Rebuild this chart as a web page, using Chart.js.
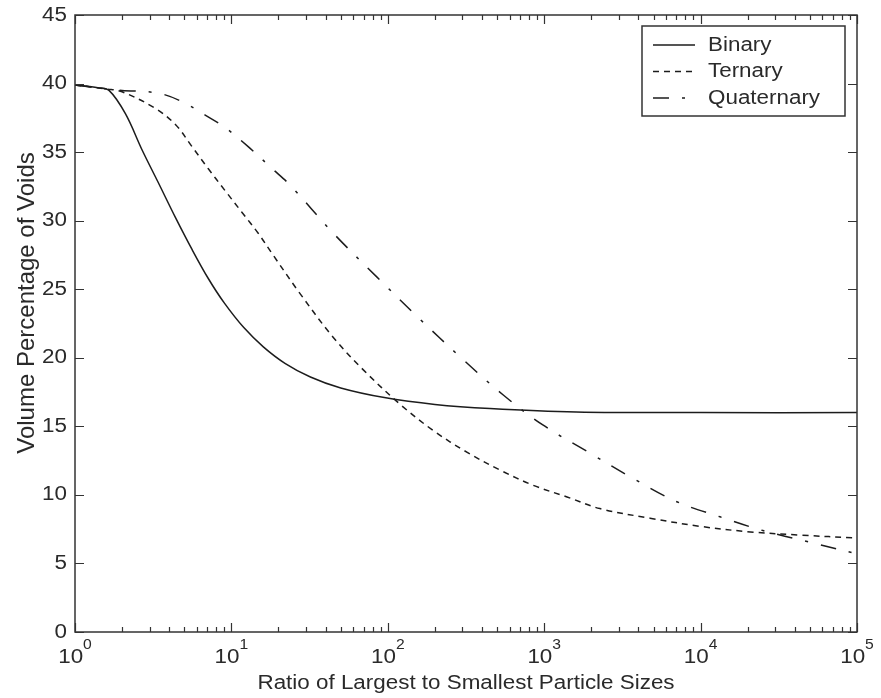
<!DOCTYPE html>
<html>
<head>
<meta charset="utf-8">
<script src="https://cdn.jsdelivr.net/npm/chart.js@4.4.1/dist/chart.umd.min.js"></script>
<style>
  html, body { margin: 0; padding: 0; background: #fff; }
  canvas { display: block; }
</style>
</head>
<body>
<canvas id="chart" width="881" height="698" style="width:881px;height:698px"></canvas>
<script>
// ratio of largest to smallest particle size -> volume % of voids
const binaryRatio = [1, 1.4, 1.65, 2.1, 2.7, 3.4, 4.4, 5.6, 7.1, 9, 12, 16, 22, 32, 50, 95, 200, 450, 1600, 10000, 100000];
const binaryVoids = [39.9, 39.7, 39.5, 37.8, 35.1, 32.8, 30.2, 27.9, 25.8, 24.0, 22.2, 20.8, 19.6, 18.6, 17.8, 17.1, 16.6, 16.3, 16.05, 16.0, 16.0];

const ternaryRatio = [1, 1.6, 2.0, 3.25, 4.4, 5.6, 7.1, 9.1, 11.7, 14.8, 18.2, 27.4, 44.7, 70, 120, 195, 322, 524, 850, 1400, 2270, 4750, 10000, 20800, 43400, 100000];
const ternaryVoids = [39.9, 39.6, 39.4, 38.2, 37.0, 35.4, 33.8, 32.2, 30.6, 29.1, 27.6, 24.7, 21.5, 19.1, 16.6, 14.7, 13.1, 11.8, 10.7, 9.85, 9.0, 8.3, 7.7, 7.3, 7.07, 6.85];

const quaternaryRatio = [1, 1.6, 2.0, 3.4, 4.8, 6.8, 9.1, 12.8, 18.2, 23.7, 44.7, 85, 161, 288, 545, 980, 1960, 3700, 7050, 13300, 25000, 48000, 100000];
const quaternaryVoids = [39.9, 39.6, 39.5, 39.3, 38.7, 37.7, 36.8, 35.4, 33.8, 32.6, 29.1, 25.9, 22.8, 20.1, 17.3, 15.1, 13.05, 11.2, 9.5, 8.4, 7.4, 6.6, 5.7];

const seriesNames = ['Binary', 'Ternary', 'Quaternary'];
const yTicks = [0, 5, 10, 15, 20, 25, 30, 35, 40, 45];
const xExponents = [0, 1, 2, 3, 4, 5];

const xTitle = 'Ratio of Largest to Smallest Particle Sizes';
const yTitle = 'Volume Percentage of Voids';

const FONT = '"Liberation Sans", Arial, sans-serif';
const INK = '#2a2a2a';
const SX = 1.12; // the source picture is a bit wider than tall

function pts(xs, ys) {
    return xs.map((v, i) => ({ x: v, y: ys[i] }));
}

function stretchedText(ctx, str, x, y, align) {
    ctx.save();
    ctx.translate(x, y);
    ctx.scale(SX, 1);
    ctx.textAlign = align;
    ctx.fillText(str, 0, 0);
    ctx.restore();
}

// MATLAB style box, inward ticks, labels and legend
const frame = {
    id: 'frame',
    afterDraw(chart) {
        const { ctx, chartArea: a, scales: { x, y } } = chart;
        ctx.save();
        ctx.strokeStyle = '#333';
        ctx.lineWidth = 1.5;
        ctx.strokeRect(a.left, a.top, a.right - a.left, a.bottom - a.top);

        ctx.lineWidth = 1.2;
        ctx.beginPath();
        yTicks.forEach(v => {
            const py = Math.round(y.getPixelForValue(v)) + 0.5;
            ctx.moveTo(a.left, py); ctx.lineTo(a.left + 9, py);
            ctx.moveTo(a.right, py); ctx.lineTo(a.right - 9, py);
        });
        xExponents.forEach((e, i) => {
            for (let m = 1; m <= 9; m++) {
                if (i === xExponents.length - 1 && m > 1) break;
                const px = Math.round(x.getPixelForValue(m * Math.pow(10, e))) + 0.5;
                const len = m === 1 ? 9 : 5;
                ctx.moveTo(px, a.bottom); ctx.lineTo(px, a.bottom - len);
                ctx.moveTo(px, a.top); ctx.lineTo(px, a.top + len);
            }
        });
        ctx.stroke();

        // tick labels
        ctx.fillStyle = INK;
        ctx.textBaseline = 'middle';
        ctx.font = '20px ' + FONT;
        yTicks.forEach(v => {
            stretchedText(ctx, String(v), a.left - 8, y.getPixelForValue(v), 'right');
        });
        xExponents.forEach(e => {
            const px = x.getPixelForValue(Math.pow(10, e));
            ctx.font = '20px ' + FONT;
            const w1 = ctx.measureText('10').width * SX;
            ctx.font = '14px ' + FONT;
            const w2 = ctx.measureText(String(e)).width * SX;
            const start = px - (w1 + w2) / 2;
            ctx.font = '20px ' + FONT;
            stretchedText(ctx, '10', start, a.bottom + 25, 'left');
            ctx.font = '14px ' + FONT;
            stretchedText(ctx, String(e), start + w1, a.bottom + 13, 'left');
        });

        // axis titles
        ctx.font = '20px ' + FONT;
        stretchedText(ctx, xTitle, (a.left + a.right) / 2, a.bottom + 51, 'center');
        ctx.save();
        ctx.translate(27, 303);
        ctx.rotate(-Math.PI / 2);
        ctx.font = '24px ' + FONT;
        ctx.textAlign = 'center';
        ctx.fillText(yTitle, 0, 0);
        ctx.restore();

        // legend
        const bx = a.right - 215, by = a.top + 11, bw = 203, bh = 90;
        ctx.fillStyle = '#fff';
        ctx.fillRect(bx, by, bw, bh);
        ctx.strokeStyle = '#333';
        ctx.lineWidth = 1.5;
        ctx.strokeRect(bx, by, bw, bh);
        chart.data.datasets.forEach((ds, i) => {
            const ly = by + 19 + i * 26.5;
            ctx.strokeStyle = ds.borderColor;
            ctx.lineWidth = ds.borderWidth;
            ctx.setLineDash(ds.borderDash || []);
            ctx.beginPath();
            ctx.moveTo(bx + 11, ly);
            ctx.lineTo(bx + 53, ly);
            ctx.stroke();
            ctx.setLineDash([]);
            ctx.fillStyle = INK;
            ctx.font = '20px ' + FONT;
            stretchedText(ctx, ds.label, bx + 66, ly, 'left');
        });
        ctx.restore();
    }
};

const lineStyle = {
    borderColor: '#1c1c1c',
    borderWidth: 1.5,
    pointRadius: 0,
    fill: false,
    tension: 0.35
};

new Chart(document.getElementById('chart'), {
    type: 'line',
    data: {
        datasets: [
            Object.assign({ label: seriesNames[0], data: pts(binaryRatio, binaryVoids) }, lineStyle),
            Object.assign({ label: seriesNames[1], data: pts(ternaryRatio, ternaryVoids), borderDash: [6, 5] }, lineStyle),
            Object.assign({ label: seriesNames[2], data: pts(quaternaryRatio, quaternaryVoids), borderDash: [16, 13, 3, 13] }, lineStyle)
        ]
    },
    options: {
        responsive: false,
        animation: false,
        events: [],
        layout: { padding: { top: 15, right: 24, left: 0, bottom: 0 } },
        plugins: { legend: { display: false }, tooltip: { enabled: false } },
        scales: {
            x: {
                type: 'logarithmic',
                min: 1,
                max: 100000,
                grid: { display: false },
                border: { display: false },
                ticks: { display: false },
                afterFit: s => { s.height = 66; }
            },
            y: {
                min: 0,
                max: 45,
                grid: { display: false },
                border: { display: false },
                ticks: { display: false, stepSize: 5 },
                afterFit: s => { s.width = 75; }
            }
        }
    },
    plugins: [frame]
});
</script>
</body>
</html>
